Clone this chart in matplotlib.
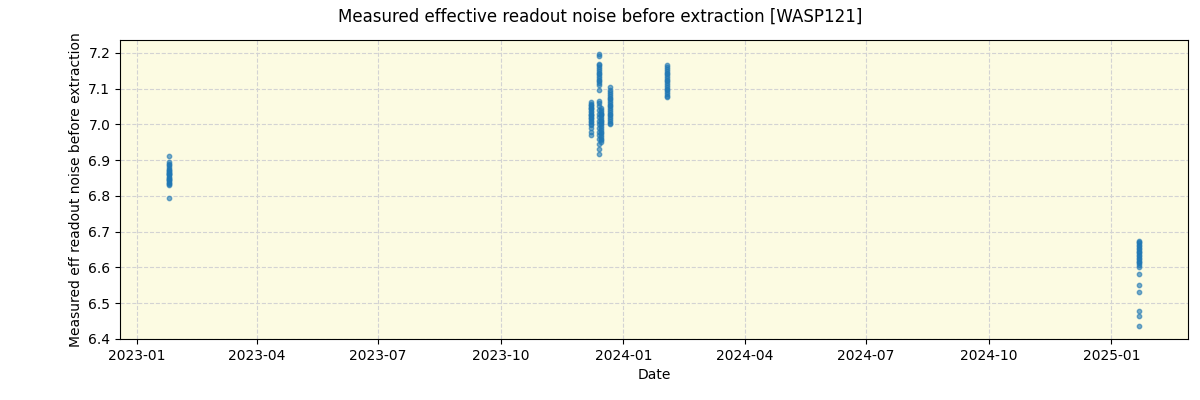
import pandas as pd
import matplotlib
matplotlib.use("Agg")
import matplotlib.pyplot as plt

# one list of dates and values per observing night
d1 = "2023-01-25"
v1 = [6.912, 6.895, 6.89, 6.885, 6.88, 6.876, 6.872, 6.868, 6.865, 6.86, 6.857, 6.853,
      6.85, 6.847, 6.844, 6.84, 6.837, 6.834, 6.83, 6.845, 6.87, 6.862, 6.795]

d2 = "2023-12-08"
v2 = [7.062, 7.058, 7.055, 7.05, 7.046, 7.042, 7.038, 7.034, 7.03, 7.026, 7.022, 7.018,
      7.014, 7.01, 7.006, 7.002, 6.998, 6.99, 6.98, 6.97, 7.045, 7.025]

d3 = "2023-12-14"
v3 = [7.198, 7.192, 7.17, 7.165, 7.16, 7.155, 7.15, 7.145, 7.14, 7.135, 7.13, 7.125,
      7.12, 7.115, 7.11, 7.095, 7.065, 7.06, 7.05, 7.04, 7.03, 7.02, 7.01, 7.0, 6.99,
      6.98, 6.97, 6.96, 6.945, 6.93, 6.918]

d4 = "2023-12-15"
v4 = [7.045, 7.04, 7.035, 7.03, 7.025, 7.02, 7.015, 7.01, 7.005, 7.0, 6.995, 6.99,
      6.985, 6.98, 6.975, 6.97, 6.965, 6.96, 6.955, 6.95, 7.03, 7.01]

d5 = "2023-12-22"
v5 = [7.105, 7.095, 7.09, 7.085, 7.08, 7.075, 7.07, 7.065, 7.06, 7.055, 7.05, 7.045,
      7.04, 7.035, 7.03, 7.025, 7.02, 7.015, 7.01, 7.005, 7.0]

d6 = "2024-02-03"
v6 = [7.165, 7.16, 7.155, 7.15, 7.145, 7.14, 7.135, 7.13, 7.125, 7.12, 7.115, 7.11,
      7.105, 7.1, 7.095, 7.09, 7.085, 7.08, 7.076]

d7 = "2025-01-22"
v7 = [6.675, 6.671, 6.667, 6.663, 6.659, 6.655, 6.651, 6.647, 6.643, 6.639, 6.635,
      6.631, 6.627, 6.623, 6.619, 6.615, 6.611, 6.607, 6.6, 6.58, 6.55, 6.532, 6.478,
      6.465, 6.437]

dates = []
values = []
for d, v in [(d1, v1), (d2, v2), (d3, v3), (d4, v4), (d5, v5), (d6, v6), (d7, v7)]:
    dates += [pd.Timestamp(d)] * len(v)
    values += v

fig, ax = plt.subplots(figsize=(12, 4), dpi=100)
ax.set_facecolor("#fcfbe2")
ax.scatter(dates, values, s=10, color="tab:blue", alpha=0.6, zorder=3)
ax.grid(True, linestyle="--", color="lightgray", zorder=0)
ax.set_xlabel("Date")
ax.set_ylabel("Measured eff readout noise before extraction")
fig.suptitle("Measured effective readout noise before extraction [WASP121]")
fig.subplots_adjust(left=0.1, right=0.99, top=0.9, bottom=0.152)
fig.savefig("out.png")
